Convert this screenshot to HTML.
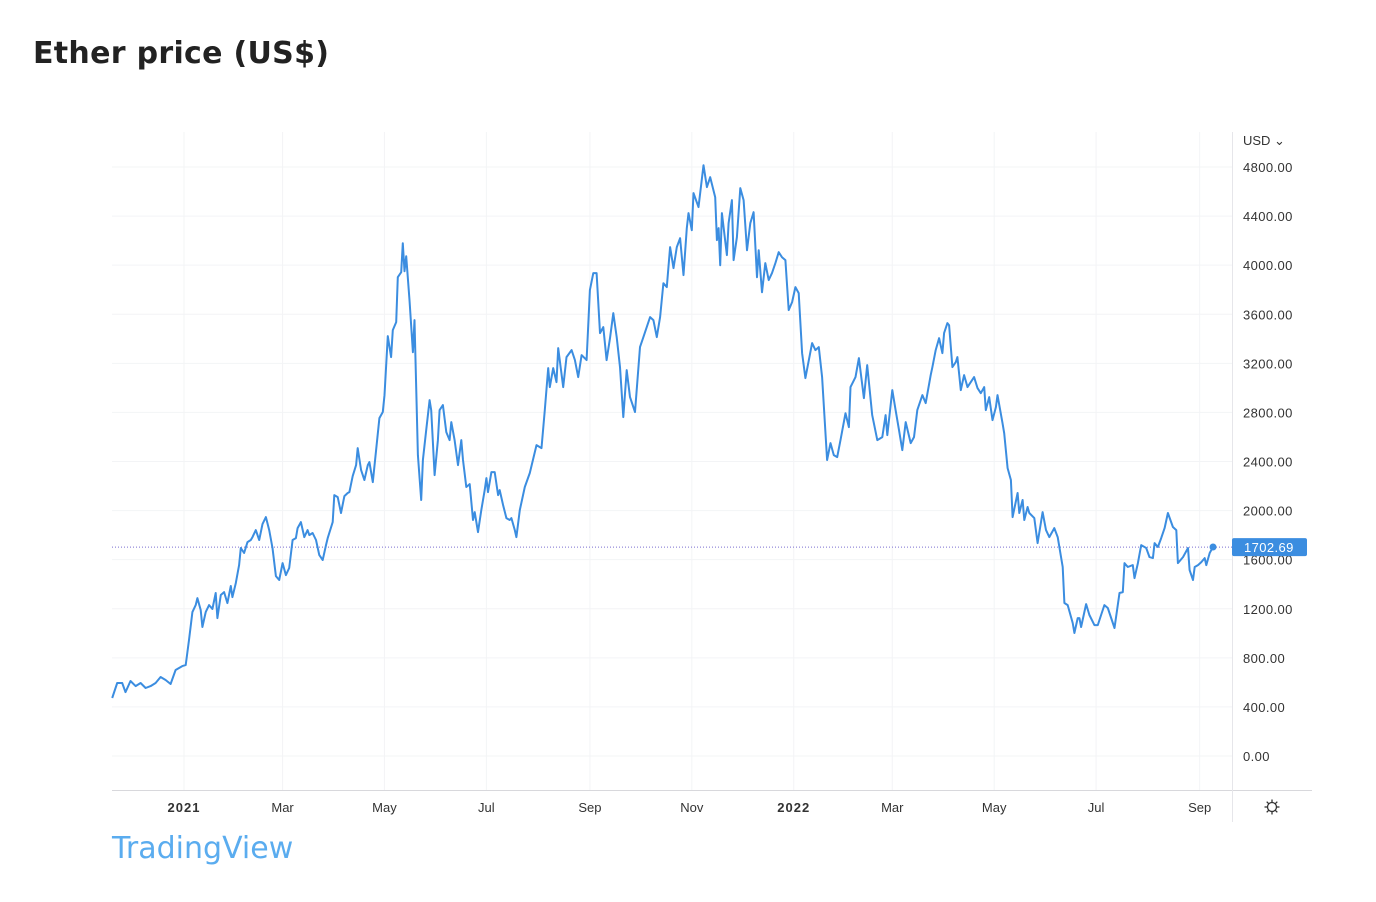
<!DOCTYPE html>
<html><head><meta charset="utf-8"><style>
body{margin:0;width:1376px;height:902px;background:#fff;overflow:hidden;font-family:"Liberation Sans","DejaVu Sans",sans-serif}
#title{position:absolute;left:33px;top:36px;font-size:30px;font-weight:bold;color:#222;font-family:"DejaVu Sans","Liberation Sans",sans-serif;letter-spacing:0.3px}
#brand{position:absolute;left:112px;top:831px;font-size:30px;color:#5aacef;font-family:"DejaVu Sans","Liberation Sans",sans-serif}
svg{position:absolute;left:0;top:0}
</style></head><body>
<div id="title">Ether price (US$)</div>
<div id="brand">TradingView</div>
<svg id="chart" width="1376" height="902"></svg>
<script>
// days since 2021-01-01
const days=[-43,-40,-37,-35,-32,-29,-26,-23,-20,-17,-14,-11,-8,-5,-1,1,3,5,7,8,10,11,13,15,17,19,20,22,24,26,28,29,31,33,34,36,38,40,41,43,45,47,49,51,53,55,57,59,61,63,65,67,68,70,72,74,75,77,79,81,83,85,86,89,90,92,94,96,98,99,101,103,104,106,108,110,111,113,115,117,119,120,122,124,125,127,128,130,131,132,133,135,137,138,140,142,143,145,147,148,150,152,153,155,157,159,160,162,164,166,167,169,171,173,174,176,178,180,181,182,184,186,188,189,191,193,195,196,198,199,201,204,207,211,214,216,218,219,221,223,224,227,229,232,234,236,238,241,243,245,247,249,251,253,255,257,259,261,263,265,267,270,273,275,279,281,283,285,287,289,291,293,295,297,299,301,302,304,305,308,311,313,315,318,319,320,321,322,325,326,328,329,331,333,335,337,339,341,343,344,346,348,350,352,354,356,358,360,362,364,366,368,370,372,376,378,380,382,385,387,389,391,393,396,398,399,402,404,407,409,412,415,418,420,421,424,426,428,430,432,435,437,439,442,444,447,448,450,452,454,455,457,458,460,462,463,465,467,469,471,473,475,477,479,480,482,484,486,487,490,491,493,495,496,499,500,502,503,505,506,509,511,514,516,518,521,523,526,527,529,532,533,535,536,537,540,542,545,547,549,551,553,557,560,562,563,565,568,569,571,573,576,578,580,581,583,585,587,589,592,594,595,598,601,602,604,605,607,609,611,612,614,616];
const prices=[473,595,595,521,611,570,595,554,570,595,644,619,587,701,733,741,945,1173,1230,1287,1190,1051,1173,1230,1198,1328,1124,1312,1336,1246,1385,1295,1409,1556,1695,1654,1743,1760,1784,1841,1760,1890,1947,1841,1695,1466,1434,1572,1474,1532,1760,1776,1857,1906,1784,1841,1800,1817,1760,1637,1597,1719,1776,1906,2126,2110,1980,2118,2143,2151,2281,2371,2509,2330,2249,2371,2395,2232,2493,2754,2803,2941,3422,3251,3471,3536,3902,3943,4179,3951,4073,3715,3291,3552,2452,2086,2412,2656,2900,2819,2289,2574,2819,2860,2640,2574,2721,2574,2371,2574,2412,2192,2216,1923,1988,1825,2004,2167,2265,2151,2314,2314,2126,2167,2045,1939,1923,1939,1841,1784,2004,2192,2306,2534,2509,2819,3161,3006,3161,3047,3324,3006,3251,3308,3226,3088,3267,3226,3797,3935,3935,3446,3495,3226,3405,3609,3414,3169,2762,3145,2925,2803,3332,3414,3577,3552,3414,3577,3853,3821,4147,3976,4147,4220,3919,4302,4424,4285,4587,4473,4815,4636,4717,4554,4204,4302,4000,4424,4082,4342,4530,4041,4228,4628,4530,4122,4342,4432,3902,4122,3780,4017,3878,3935,4017,4106,4065,4041,3634,3699,3821,3772,3283,3080,3365,3308,3332,3088,2412,2550,2452,2436,2574,2794,2680,3006,3088,3243,2917,3186,2778,2574,2599,2778,2615,2982,2819,2656,2493,2721,2550,2599,2819,2941,2876,3104,3169,3308,3405,3283,3446,3528,3511,3169,3210,3251,2982,3104,3006,3047,3088,2998,2957,3006,2819,2925,2737,2843,2941,2713,2631,2346,2249,1947,2143,1980,2086,1923,2029,1980,1939,1735,1988,1841,1784,1857,1784,1540,1247,1230,1084,1002,1124,1124,1051,1238,1149,1067,1067,1149,1230,1206,1043,1328,1336,1572,1540,1556,1450,1572,1719,1695,1621,1613,1735,1703,1776,1857,1980,1866,1841,1572,1621,1695,1515,1434,1540,1556,1580,1613,1556,1654,1703];
const lastPrice=1702.69;
const yTicks=[0,400,800,1200,1600,2000,2400,2800,3200,3600,4000,4400,4800];
const xTickDays=[0,59,120,181,243,304,365,424,485,546,608];
const xTickLabels=["2021","Mar","May","Jul","Sep","Nov","2022","Mar","May","Jul","Sep"];
const xTickBold=[true,false,false,false,false,false,true,false,false,false,false];

const NS="http://www.w3.org/2000/svg";
const svg=document.getElementById('chart');
const X=d=>184+d*1.6705;
const Y=v=>756-v*(589/4800);
function mk(t,a,p){const e=document.createElementNS(NS,t);for(const k in a)e.setAttribute(k,a[k]);(p||svg).appendChild(e);return e;}

yTicks.forEach(v=>{
  const l=mk('line',{x1:112,x2:1232,y1:Y(v),y2:Y(v),stroke:'#f3f4f6','stroke-width':1});
  
  
  const t=mk('text',{x:1243,y:Y(v)+5,'font-size':13,fill:'#333','letter-spacing':'0.4'});
  t.textContent=v.toFixed(2);
  
  
});
xTickDays.forEach((d,i)=>{
  const l=mk('line',{x1:X(d),x2:X(d),y1:132,y2:790,stroke:'#f3f4f6','stroke-width':1});
  
  
  const t=mk('text',{x:X(d),y:812,'font-size':13,fill:'#333','text-anchor':'middle','font-weight':xTickBold[i]?'bold':'normal','letter-spacing':xTickBold[i]?'1':'0'});
  t.textContent=xTickLabels[i];
  
  
});
const ax=mk('line',{x1:112,x2:1312,y1:790.5,y2:790.5,stroke:'#d8d8dc','stroke-width':1});


const sep=mk('line',{x1:1232.5,x2:1232.5,y1:132,y2:822,stroke:'#e6e6ea','stroke-width':1});



const usd=mk('text',{x:1243,y:145,'font-size':13,fill:'#333'});
usd.textContent='USD ⌄';



const pl=mk('line',{x1:112,x2:1232,y1:Y(lastPrice),y2:Y(lastPrice),stroke:'#7b6fd0','stroke-width':1,'stroke-dasharray':'1 2'});



let d='';
const n=Math.min(days.length,prices.length);
for(let i=0;i<n;i++){d+=(i?'L':'M')+X(days[i]).toFixed(1)+','+Y(prices[i]).toFixed(1);}
const path=mk('path',{d:d,fill:'none',stroke:'#3b8de0','stroke-width':2,'stroke-linejoin':'round'});


const dot=mk('circle',{cx:X(days[n-1]),cy:Y(prices[n-1]),r:3.5,fill:'#3b8de0'});



const yl=Y(lastPrice);
const box=mk('rect',{x:1232,y:yl-9,width:75,height:18,rx:2,fill:'#3b8de0'});


const bt=mk('text',{x:1244,y:yl+5,'font-size':13,fill:'#fff','letter-spacing':'0.4'});
bt.textContent=lastPrice.toFixed(2);



const g=mk('g',{transform:'translate(1272,807)',stroke:'#333','stroke-width':1.3,fill:'none'});


mk('circle',{cx:0,cy:0,r:4.5},g);
for(let a=0;a<8;a++){const r=a*Math.PI/4;mk('line',{x1:4.5*Math.cos(r),y1:4.5*Math.sin(r),x2:7.5*Math.cos(r),y2:7.5*Math.sin(r)},g);}
</script>
</body></html>
